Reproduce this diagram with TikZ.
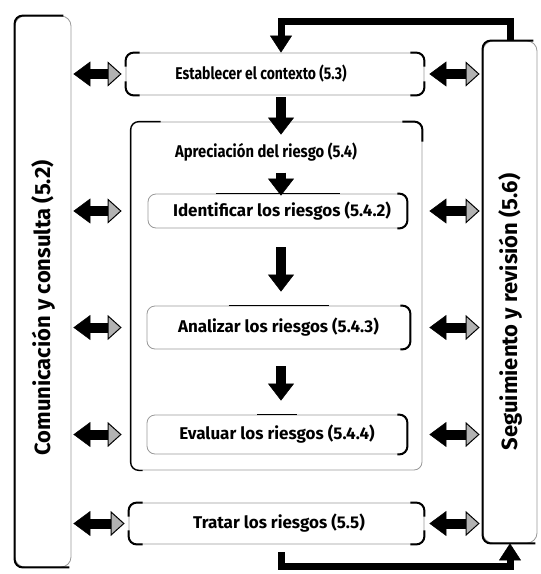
\documentclass[tikz,border=0pt]{standalone}
\usepackage{fontspec}
\usepackage{graphicx}
\setmainfont{Fira Sans}
\usetikzlibrary{arrows.meta}

% four dark rounded corners on a node
\newcommand\darkcorners[2]{%
  \draw[heavy] ([yshift=-#2]#1.north west) -- (#1.north west) -- ([xshift=#2]#1.north west);
  \draw[heavy] ([xshift=-#2]#1.north east) -- (#1.north east) -- ([yshift=-#2]#1.north east);
  \draw[heavy] ([yshift=#2]#1.south west) -- (#1.south west) -- ([xshift=#2]#1.south west);
  \draw[heavy] ([xshift=-#2]#1.south east) -- (#1.south east) -- ([yshift=#2]#1.south east);
}
% dark right side and dark middle of the top edge of an inner step
\newcommand\darkright[2]{%
  \draw[heavy] ([xshift=-10pt]#1.north east) -- (#1.north east) -- (#1.south east) -- ([xshift=-10pt]#1.south east);
  \draw[black, line width=1.5pt] ([xshift=-#2]#1.north) -- ([xshift=#2]#1.north);
}
% narrow setting for the two long headings
\newcommand\narrowtext[2]{\scalebox{#1}[1]{#2}}

\begin{document}
\begin{tikzpicture}[x=1pt,y=-1pt,
  faint/.style={draw=black!40, line width=0.8pt},
  heavy/.style={draw=black, line width=2pt, rounded corners=8pt},
  medium/.style={draw=black, line width=1.3pt, rounded corners=8pt},
  boxfont/.style={font=\bfseries\fontsize{17}{19}\selectfont},
  stepbox/.style={faint, rounded corners=8pt, inner sep=0pt},
  sidebox/.style={faint, rounded corners=10pt, inner sep=0pt},
  sidelabel/.style={rotate=90, font=\bfseries\fontsize{22}{24}\selectfont},
  flow/.style={line width=10pt, -{Triangle[width=26pt,length=17pt,line width=0.5pt]}},
  loopline/.style={line width=7pt, -{Triangle[width=22pt,length=17pt,line width=0.5pt]}},
  dbl/.style={line width=10pt,
    {Triangle[width=25pt,length=17pt,line width=0.5pt]}-{Triangle[width=25pt,length=14pt,fill=black!30,line width=1pt]}},
]
\useasboundingbox (0,0) rectangle (541,574);
\fill[white] (0,0) rectangle (541,574);

% side panels
\node[sidebox, minimum width=56pt, minimum height=551pt] (com) at (43,291.5) {};
\node[sidebox, minimum width=54pt, minimum height=502pt] (mon) at (510,292) {};
\node[sidelabel] (comt) at (43,308) {Comunicación y consulta (5.2)};
\node[sidelabel] (mont) at (510,312) {Seguimiento y revisión (5.6)};

% process steps
\node[stepbox, minimum width=298pt, minimum height=42pt] (ctx) at (275,74) {};
\node[boxfont] (ctxt) at (261,74) {\narrowtext{0.82}{Establecer el contexto (5.3)}};
\node[stepbox, minimum width=291pt, minimum height=348pt] (apre) at (276.5,296) {};
\node[boxfont] (apt) at (266,152) {\narrowtext{0.87}{Apreciación del riesgo (5.4)}};
\node[stepbox, minimum width=259pt, minimum height=34pt] (idb) at (277.5,211) {};
\node[boxfont] (idt) at (282,211) {Identificar los riesgos (5.4.2)};
\node[stepbox, boxfont, minimum width=263pt, minimum height=43pt] (ana) at (278.5,327.5) {Analizar los riesgos (5.4.3)};
\node[stepbox, boxfont, minimum width=260pt, minimum height=39pt] (eva) at (277,434.5) {Evaluar los riesgos (5.4.4)};
\node[stepbox, minimum width=295pt, minimum height=41pt] (trat) at (276.5,523.5) {};
\node[boxfont] (tratt) at (279,523.5) {Tratar los riesgos (5.5)};

% darker parts of the outlines
\draw[heavy] ([xshift=-8pt]com.north east) -- (com.north west) -- (com.south west) -- ([xshift=-2pt]com.south east);
\draw[heavy] ([xshift=-4pt]mon.north east) -- (mon.north west) -- (mon.south west) -- ([xshift=-2pt]mon.south east);
\draw[medium] ([xshift=30pt]apre.north west) -- (apre.north west) -- (apre.south west) -- ([xshift=12pt]apre.south west);
\draw[heavy] ([xshift=-20pt]apre.north east) -- (apre.north east) -- ([yshift=-20pt]apre.north east);
\darkcorners{ctx}{14pt}
\darkcorners{trat}{14pt}
\darkright{idb}{62pt}
\darkright{ana}{50pt}
\darkright{eva}{20pt}

% main flow
\coordinate (axis) at (281,0);
\draw[flow, shorten <=2pt, shorten >=-13pt] (axis |- ctx.south) -- (axis |- apre.north);
\draw[flow, shorten <=8pt, shorten >=-2pt] (axis |- apt.south) -- (axis |- idb.north);
\draw[flow, shorten <=19pt, shorten >=14pt] (axis |- idb.south) -- (axis |- ana.north);
\draw[flow, shorten <=17pt, shorten >=14pt] (axis |- ana.south) -- (axis |- eva.north);

% review loops
\draw[loopline] (mon.north) -- ++(0,-19) -| (axis |- ctx.north);
\draw[loopline, shorten <=8pt] (axis |- trat.south) -- ++(0,22) -| (mon.south);

% communication and review links
\foreach \s/\t in {ctx/ctx, trat/trat}{
  \draw[dbl, shorten <=2pt, shorten >=4pt] (com.east |- \s) -- (\t.west);
  \draw[dbl, shorten <=5pt, shorten >=3pt] (\t.east) -- (mon.west |- \s);
}
\foreach \s in {idb, ana, eva}{
  \draw[dbl, shorten <=2pt, shorten >=9pt] (com.east |- \s) -- (apre.west |- \s);
  \draw[dbl, shorten <=7pt, shorten >=3pt] (apre.east |- \s) -- (mon.west |- \s);
}
\end{tikzpicture}
\end{document}
